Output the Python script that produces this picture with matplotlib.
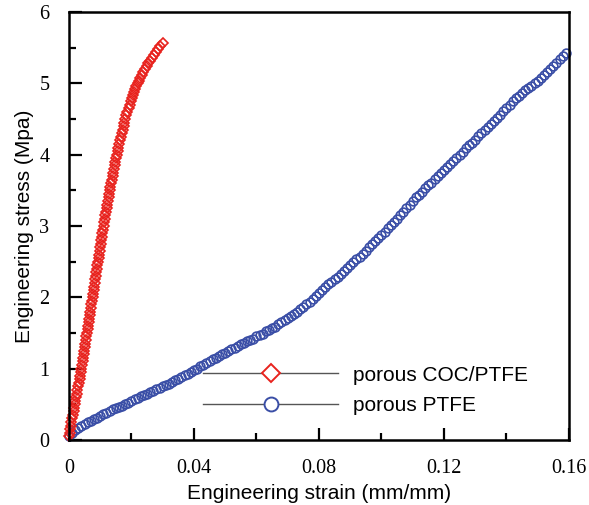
# Stress-strain curves for porous COC/PTFE and porous PTFE

import matplotlib
matplotlib.use("Agg")
import matplotlib.pyplot as plt
from matplotlib.lines import Line2D
from matplotlib.ticker import MultipleLocator, FuncFormatter

# === Data ===
coc_strain = [
    0.0000, 0.0002, 0.0004, 0.0006, 0.0008, 0.0011, 0.0013, 0.0015, 0.0017, 0.0019,
    0.0021, 0.0023, 0.0025, 0.0027, 0.0030, 0.0032, 0.0034, 0.0036, 0.0038, 0.0040,
    0.0042, 0.0044, 0.0045, 0.0047, 0.0049, 0.0051, 0.0053, 0.0054, 0.0056, 0.0058,
    0.0060, 0.0062, 0.0063, 0.0065, 0.0067, 0.0069, 0.0071, 0.0072, 0.0074, 0.0076,
    0.0078, 0.0079, 0.0081, 0.0083, 0.0085, 0.0086, 0.0088, 0.0090, 0.0091, 0.0093,
    0.0095, 0.0097, 0.0098, 0.0100, 0.0102, 0.0104, 0.0106, 0.0107, 0.0109, 0.0111,
    0.0113, 0.0115, 0.0117, 0.0119, 0.0121, 0.0123, 0.0125, 0.0127, 0.0129, 0.0131,
    0.0133, 0.0135, 0.0138, 0.0140, 0.0142, 0.0144, 0.0146, 0.0149, 0.0151, 0.0153,
    0.0156, 0.0158, 0.0161, 0.0164, 0.0167, 0.0169, 0.0172, 0.0175, 0.0177, 0.0180,
    0.0184, 0.0187, 0.0191, 0.0194, 0.0198, 0.0202, 0.0206, 0.0209, 0.0213, 0.0216,
    0.0220, 0.0225, 0.0229, 0.0234, 0.0238, 0.0243, 0.0249, 0.0254, 0.0260, 0.0266,
    0.0272, 0.0278, 0.0285, 0.0292, 0.0300,
]
coc_stress = [
    0.05, 0.10, 0.15, 0.20, 0.25, 0.30, 0.35, 0.40, 0.45, 0.50,
    0.55, 0.60, 0.65, 0.70, 0.75, 0.80, 0.85, 0.90, 0.95, 1.00,
    1.05, 1.10, 1.15, 1.20, 1.25, 1.30, 1.35, 1.40, 1.45, 1.50,
    1.55, 1.60, 1.65, 1.70, 1.75, 1.80, 1.85, 1.90, 1.95, 2.00,
    2.05, 2.10, 2.15, 2.20, 2.25, 2.30, 2.35, 2.40, 2.45, 2.50,
    2.55, 2.60, 2.65, 2.70, 2.75, 2.80, 2.85, 2.90, 2.95, 3.00,
    3.05, 3.10, 3.15, 3.20, 3.25, 3.30, 3.35, 3.40, 3.45, 3.50,
    3.55, 3.60, 3.65, 3.70, 3.75, 3.80, 3.85, 3.90, 3.95, 4.00,
    4.05, 4.10, 4.15, 4.20, 4.25, 4.30, 4.35, 4.40, 4.45, 4.50,
    4.55, 4.60, 4.65, 4.70, 4.75, 4.80, 4.84, 4.88, 4.92, 4.96,
    5.00, 5.04, 5.08, 5.12, 5.16, 5.20, 5.24, 5.28, 5.32, 5.36,
    5.40, 5.44, 5.48, 5.52, 5.56,
]

ptfe_strain = [
    0.000, 0.001, 0.002, 0.003, 0.004, 0.005, 0.006, 0.007, 0.008, 0.009,
    0.010, 0.011, 0.012, 0.013, 0.014, 0.015, 0.016, 0.017, 0.018, 0.019,
    0.020, 0.021, 0.022, 0.023, 0.024, 0.025, 0.026, 0.027, 0.028, 0.029,
    0.030, 0.031, 0.032, 0.033, 0.034, 0.035, 0.036, 0.037, 0.038, 0.039,
    0.040, 0.041, 0.042, 0.043, 0.044, 0.045, 0.046, 0.047, 0.048, 0.049,
    0.050, 0.051, 0.052, 0.053, 0.054, 0.055, 0.056, 0.057, 0.058, 0.059,
    0.060, 0.061, 0.062, 0.063, 0.064, 0.065, 0.066, 0.067, 0.068, 0.069,
    0.070, 0.071, 0.072, 0.073, 0.074, 0.075, 0.076, 0.077, 0.078, 0.079,
    0.080, 0.081, 0.082, 0.083, 0.084, 0.085, 0.086, 0.087, 0.088, 0.089,
    0.090, 0.091, 0.092, 0.093, 0.094, 0.095, 0.096, 0.097, 0.098, 0.099,
    0.100, 0.101, 0.102, 0.103, 0.104, 0.105, 0.106, 0.107, 0.108, 0.109,
    0.110, 0.111, 0.112, 0.113, 0.114, 0.115, 0.116, 0.117, 0.118, 0.119,
    0.120, 0.121, 0.122, 0.123, 0.124, 0.125, 0.126, 0.127, 0.128, 0.129,
    0.130, 0.131, 0.132, 0.133, 0.134, 0.135, 0.136, 0.137, 0.138, 0.139,
    0.140, 0.141, 0.142, 0.143, 0.144, 0.145, 0.146, 0.147, 0.148, 0.149,
    0.150, 0.151, 0.152, 0.153, 0.154, 0.155, 0.156, 0.157, 0.158, 0.159,
]
ptfe_stress = [
    0.05, 0.10, 0.14, 0.17, 0.20, 0.22, 0.25, 0.27, 0.29, 0.31,
    0.34, 0.36, 0.38, 0.41, 0.43, 0.45, 0.46, 0.48, 0.50, 0.52,
    0.54, 0.57, 0.59, 0.61, 0.63, 0.65, 0.67, 0.69, 0.71, 0.73,
    0.75, 0.77, 0.79, 0.81, 0.84, 0.86, 0.88, 0.91, 0.93, 0.95,
    0.98, 1.00, 1.03, 1.05, 1.08, 1.10, 1.13, 1.15, 1.17, 1.20,
    1.22, 1.24, 1.27, 1.29, 1.31, 1.34, 1.36, 1.38, 1.40, 1.42,
    1.45, 1.47, 1.49, 1.52, 1.54, 1.57, 1.59, 1.62, 1.65, 1.68,
    1.71, 1.74, 1.77, 1.80, 1.84, 1.87, 1.91, 1.94, 1.98, 2.02,
    2.06, 2.10, 2.14, 2.18, 2.21, 2.25, 2.29, 2.33, 2.37, 2.41,
    2.45, 2.49, 2.53, 2.57, 2.61, 2.65, 2.70, 2.75, 2.79, 2.83,
    2.88, 2.92, 2.97, 3.01, 3.06, 3.10, 3.15, 3.20, 3.25, 3.30,
    3.35, 3.40, 3.44, 3.48, 3.53, 3.57, 3.61, 3.66, 3.70, 3.74,
    3.78, 3.83, 3.87, 3.91, 3.96, 4.00, 4.04, 4.09, 4.13, 4.17,
    4.21, 4.26, 4.30, 4.34, 4.39, 4.43, 4.47, 4.52, 4.56, 4.61,
    4.65, 4.70, 4.75, 4.79, 4.83, 4.87, 4.91, 4.94, 4.97, 5.01,
    5.04, 5.08, 5.12, 5.16, 5.20, 5.24, 5.29, 5.34, 5.38, 5.43,
]

series_labels = ["porous COC/PTFE", "porous PTFE"]

red = "#e8231e"
blue = "#3a4ea6"

fig = plt.figure(figsize=(5.89, 5.05), dpi=100)
ax = fig.add_axes([0.117, 0.129, 0.849, 0.847])

# === Curves ===
ax.plot(ptfe_strain, ptfe_stress, linestyle="none", marker="o", markersize=6.3,
        markerfacecolor="none", markeredgecolor=blue, markeredgewidth=1.2, clip_on=False)
ax.plot(coc_strain, coc_stress, linestyle="none", marker="D", markersize=4.6,
        markerfacecolor="none", markeredgecolor=red, markeredgewidth=1.2, clip_on=False)

# === Axes ===
ax.set_xlim(0, 0.16)
ax.set_ylim(0, 6)
ax.xaxis.set_major_locator(MultipleLocator(0.04))
ax.xaxis.set_minor_locator(MultipleLocator(0.02))
ax.yaxis.set_major_locator(MultipleLocator(1))
ax.yaxis.set_minor_locator(MultipleLocator(0.5))
ax.xaxis.set_major_formatter(FuncFormatter(lambda v, p: "0" if abs(v) < 1e-9 else f"{v:g}"))
ax.yaxis.set_major_formatter(FuncFormatter(lambda v, p: f"{v:.0f}"))

ax.tick_params(which="both", direction="in", top=False, right=False, width=1.6)
ax.tick_params(which="major", length=9, pad=14)
ax.tick_params(which="minor", length=5)
for lbl in ax.get_xticklabels() + ax.get_yticklabels():
    lbl.set_fontfamily("Liberation Serif")
    lbl.set_fontsize(14.5)
for sp in ax.spines.values():
    sp.set_linewidth(1.8)

ax.set_xlabel("Engineering strain (mm/mm)", fontsize=15, family="Liberation Sans", labelpad=4)
ax.set_ylabel("Engineering stress (Mpa)", fontsize=15, family="Liberation Sans", labelpad=4)

# === Legend ===
handles = [
    Line2D([], [], color="#555555", linewidth=1.0, marker="D", markersize=9,
           markerfacecolor="white", markeredgecolor=red, markeredgewidth=1.4),
    Line2D([], [], color="#555555", linewidth=1.0, marker="o", markersize=10,
           markerfacecolor="white", markeredgecolor=blue, markeredgewidth=1.4),
]
ax.legend(handles, series_labels, loc="center left", bbox_to_anchor=(0.268, 0.116),
          frameon=False, borderpad=0, borderaxespad=0, handlelength=6.5,
          handletextpad=0.7, labelspacing=0.55, prop={"family": "Liberation Sans", "size": 15})

fig.savefig("out.png", dpi=100)
